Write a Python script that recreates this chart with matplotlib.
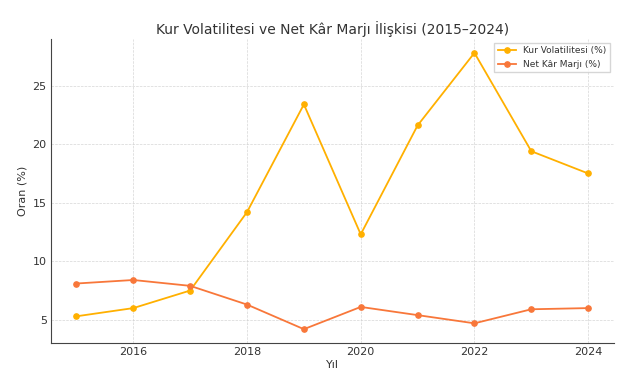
import numpy as np
import matplotlib
matplotlib.use("Agg")
import matplotlib.pyplot as plt

# data
years = [2015, 2016, 2017, 2018, 2019, 2020, 2021, 2022, 2023, 2024]
kur_vol = [5.3, 6.0, 7.5, 14.2, 23.4, 12.3, 21.6, 27.8, 19.4, 17.5]
net_kar = [8.1, 8.4, 7.9, 6.3, 4.2, 6.1, 5.4, 4.7, 5.9, 6.0]

txt = '#333333'
plt.rcParams['font.family'] = ['DejaVu Sans']
plt.rcParams['text.color'] = txt
plt.rcParams['axes.labelcolor'] = txt
plt.rcParams['xtick.color'] = txt
plt.rcParams['ytick.color'] = txt

fig, ax = plt.subplots(figsize=(6.44, 3.72), dpi=100)
fig.subplots_adjust(left=0.079, right=0.953, top=0.895, bottom=0.078)

ax.plot(years, kur_vol, marker='o', markersize=3.8, lw=1.3, color='#FFB000',
        label='Kur Volatilitesi (%)')
ax.plot(years, net_kar, marker='o', markersize=3.8, lw=1.3, color='#F8773A',
        label='Net Kâr Marjı (%)')

ax.set_title('Kur Volatilitesi ve Net Kâr Marjı İlişkisi (2015–2024)', fontsize=10, pad=4)
ax.set_xlabel('Yıl', fontsize=8, labelpad=2)
ax.set_ylabel('Oran (%)', fontsize=8, labelpad=4)
ax.tick_params(labelsize=8, length=0, pad=3)
ax.grid(True, linestyle='--', linewidth=0.5, color='#cccccc', alpha=0.8)
for s in ['top', 'right']:
    ax.spines[s].set_visible(False)
for s in ['left', 'bottom']:
    ax.spines[s].set_color('#444444')
ax.legend(fontsize=6.5, loc='upper right', frameon=True, edgecolor='#cccccc',
          fancybox=False, handlelength=2.0, borderaxespad=0.4)

plt.savefig('out.png', dpi=100)
